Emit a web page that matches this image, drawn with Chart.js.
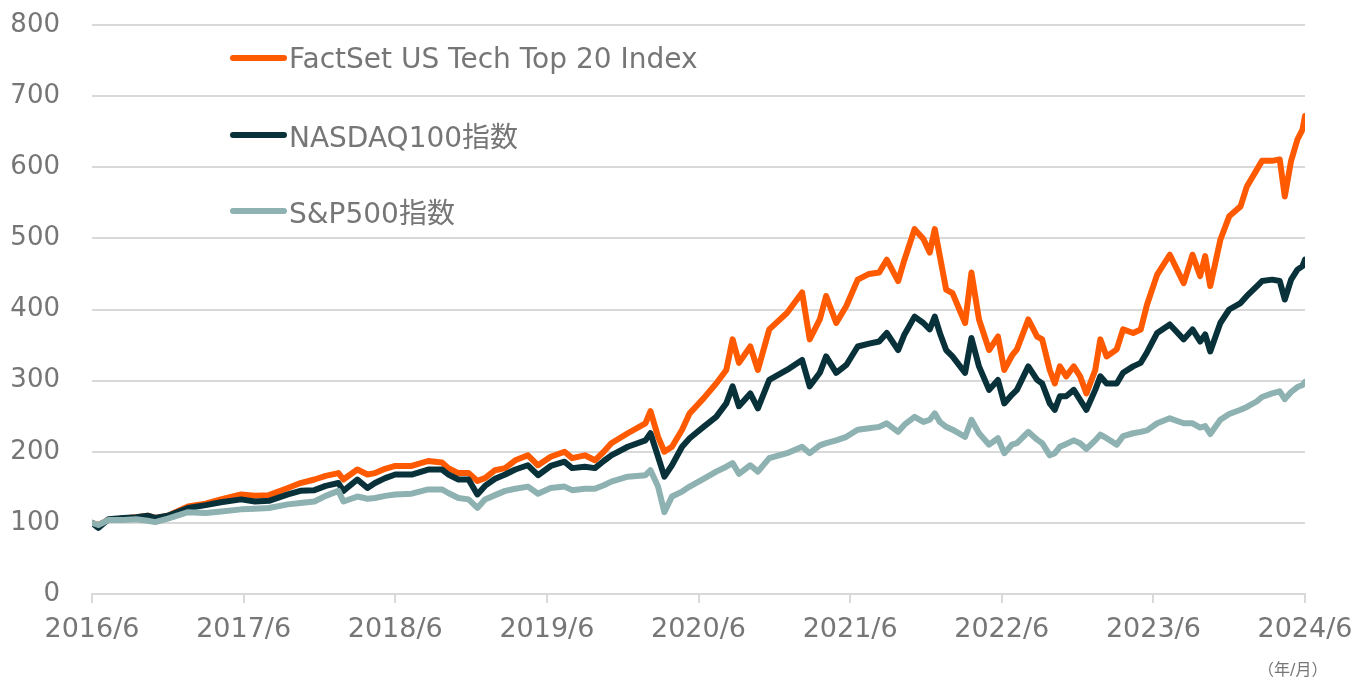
<!DOCTYPE html>
<html>
<head>
<meta charset="utf-8">
<script src="https://cdn.jsdelivr.net/npm/chart.js@4/dist/chart.umd.min.js"></script>
<style>
  html, body { margin: 0; padding: 0; background: #ffffff; }
  #wrap { position: relative; width: 1352px; height: 682px; }
  #c { position: absolute; left: 0; top: 0; }
  .leg { position: absolute; left: 230px; height: 34px; display: flex; align-items: center;
         font-family: "DejaVu Sans", "Noto Sans CJK JP", sans-serif; font-size: 28px; color: #767676; white-space: nowrap; }
  .leg i { display: inline-block; width: 57px; height: 6px; border-radius: 3px; margin-right: 2px; }
  #unit { position: absolute; left: 1258px; top: 656px; font-family: "DejaVu Sans", "Noto Sans CJK JP", sans-serif;
          font-size: 16px; color: #767676; white-space: nowrap; }
</style>
</head>
<body>
<div id="wrap">
  <canvas id="c" width="1352" height="682"></canvas>
  <div id="legend"></div>
  <div id="unit">（年/月）</div>
</div>
<script>
// months elapsed since 2016/6
const months = [0,0.5,1.3,2.5,3.5,4.4,5,6,7.6,9,10.2,11.8,12.9,14,15.5,16.5,17.6,18.5,19.5,19.9,21,21.8,22.4,23.2,24,25.3,26.6,27.7,28.2,29,29.8,30.5,31.1,31.9,32.7,33.5,34.5,35.3,36.3,37.4,38,39,39.8,40.5,41.1,42.4,43.8,44.2,44.8,45.3,45.9,46.7,47.3,48.4,49.4,50.2,50.7,51.2,52.1,52.7,53.6,55,56.2,56.8,57.6,58.1,58.9,59.7,60.6,61.5,62.3,62.9,63.8,64.3,65.1,65.8,66.3,66.7,67.1,67.6,68.1,69.1,69.6,70.2,71,71.7,72.2,72.8,73.2,74.1,74.8,75.2,75.8,76.2,76.6,77.1,77.7,78.2,78.7,79.4,79.8,80.3,81.1,81.6,82.4,83,83.5,84.3,85.3,86.4,87.1,87.7,88.1,88.5,89.3,90,90.9,91.4,92.2,92.6,93.4,94,94.4,94.9,95.4,95.8,96];

const factsetTop20 = [100,97,104,106,108,110,107,110,123,127,133,140,138,139,149,156,161,166,170,161,175,168,170,176,180,180,187,185,177,170,170,159,163,174,177,188,195,181,193,200,191,195,188,200,212,226,240,257,221,200,207,231,254,275,296,315,358,325,348,315,372,395,424,358,386,419,381,405,442,450,452,470,440,470,513,499,480,513,475,428,423,381,452,386,343,362,315,335,344,386,362,358,315,296,320,306,320,306,282,315,358,334,344,372,367,372,407,449,477,437,477,447,475,433,498,531,545,573,597,609,609,611,559,609,639,653,672];

const nasdaq100 = [100,93,105,107,108,110,107,110,121,125,129,133,130,131,140,145,146,152,156,145,161,149,156,163,168,168,175,175,168,161,161,140,152,162,168,175,181,167,180,186,177,179,177,187,195,207,216,226,193,165,181,207,219,235,249,268,292,264,282,261,301,315,329,292,311,334,311,322,348,352,355,367,343,365,390,381,372,390,367,343,334,311,360,320,287,301,268,280,287,320,301,296,268,259,278,278,287,273,259,287,306,296,296,311,320,325,340,367,379,358,372,355,365,341,381,400,409,419,433,440,442,440,414,442,456,461,470];

const sp500 = [100,97,104,104,105,103,101,106,115,114,116,119,120,121,126,128,130,138,145,130,137,134,135,138,140,141,147,147,142,135,133,121,133,139,145,148,151,141,149,151,146,148,148,153,158,165,167,174,151,115,137,144,151,162,172,179,184,169,181,172,191,198,207,198,209,212,216,221,231,233,235,240,228,238,249,242,245,254,242,235,231,221,245,226,210,219,198,210,212,228,217,212,195,198,207,211,216,212,204,216,224,219,210,222,226,228,230,240,247,240,240,234,236,225,245,253,259,263,271,277,282,285,274,284,291,294,298];

const seriesNames = ["FactSet US Tech Top 20 Index", "NASDAQ100指数", "S&P500指数"];
const seriesColors = ["#FF5A00", "#08313A", "#8EB1B1"];
const tickLabels = ["2016/6","2017/6","2018/6","2019/6","2020/6","2021/6","2022/6","2023/6","2024/6"];

const toPts = arr => arr.map((v, i) => ({ x: months[i], y: v }));
const seriesValues = [factsetTop20, nasdaq100, sp500];

const datasets = seriesValues.map((vals, i) => ({
  label: seriesNames[i],
  data: toPts(vals),
  borderColor: seriesColors[i],
  backgroundColor: seriesColors[i],
  borderWidth: 6,
  pointRadius: 0,
  tension: 0,
  borderJoinStyle: 'round',
  borderCapStyle: 'round',
  order: 3 - i
}));

const gray = '#767676';
const gridC = '#D9D9D9';

new Chart(document.getElementById('c'), {
  type: 'line',
  data: { datasets },
  options: {
    responsive: false,
    animation: false,
    layout: { padding: { top: 25, right: 47, left: 0, bottom: 0 } },
    plugins: { legend: { display: false }, tooltip: { enabled: false } },
    scales: {
      x: {
        type: 'linear', min: 0, max: 96,
        grid: { display: true, drawOnChartArea: false, drawTicks: true, tickLength: 9, color: gridC, lineWidth: 2 },
        border: { display: true, color: gridC, width: 2 },
        ticks: {
          stepSize: 12, autoSkip: false, maxRotation: 0, padding: 11,
          color: gray, font: { family: '"DejaVu Sans", sans-serif', size: 27 },
          callback: v => tickLabels[Math.round(v / 12)]
        },
        afterFit: s => { s.height = 88; s.paddingLeft = 0; s.paddingRight = 0; }
      },
      y: {
        min: 0, max: 800,
        grid: { color: gridC, lineWidth: 2, drawTicks: false },
        border: { display: false },
        ticks: { stepSize: 100, padding: 32, color: gray, font: { family: '"DejaVu Sans", sans-serif', size: 26 } },
        afterFit: s => { s.width = 92; s.paddingTop = 0; s.paddingBottom = 0; }
      }
    }
  }
});

// HTML legend built from the datasets
const legTops = [41, 118, 194];
const legend = document.getElementById('legend');
datasets.forEach((d, i) => {
  const row = document.createElement('div');
  row.className = 'leg';
  row.style.top = legTops[i] + 'px';
  const sw = document.createElement('i');
  sw.style.background = d.borderColor;
  row.appendChild(sw);
  row.appendChild(document.createTextNode(d.label));
  legend.appendChild(row);
});
</script>
</body>
</html>
